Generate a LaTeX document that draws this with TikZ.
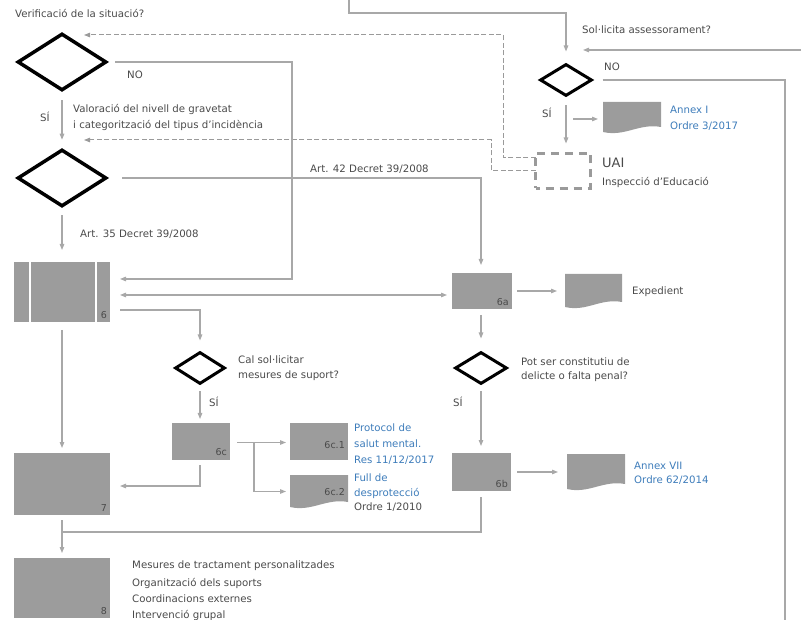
\documentclass[tikz,border=0pt]{standalone}
\usepackage{fontspec}
\setmainfont{DejaVu Sans}
\usetikzlibrary{shapes.geometric,arrows.meta,calc}
\definecolor{boxg}{HTML}{9C9C9C}
\definecolor{lineg}{HTML}{A8A8A8}
\definecolor{txtg}{HTML}{4A4A4A}
\definecolor{blu}{HTML}{3D7CBA}
\definecolor{dashg}{HTML}{9A9A9A}
\newcommand{\docshape}[1]{%
  \fill[boxg] (#1.north west) -- (#1.north east) -- ($(#1.south east)+(0,-6)$)
    .. controls ($(#1.south east)+(-22,-10)$) and ($(#1.south west)+(22,4)$) .. ($(#1.south west)+(0,-1)$) -- cycle;}
\begin{document}
\begin{tikzpicture}[x=1pt,y=-1pt,
  every node/.style={font=\fontsize{10.2}{12}\selectfont, text=txtg, inner sep=0pt},
  dia/.style={diamond, draw=black, line width=3.5pt, fill=white, inner sep=0pt, minimum width=89pt, minimum height=57pt},
  sdia/.style={diamond, draw=black, line width=3pt, fill=white, inner sep=0pt, minimum width=50pt, minimum height=32pt},
  box/.style={rectangle, fill=boxg, inner sep=0pt, outer sep=0pt, anchor=north west},
  docn/.style={rectangle, inner sep=0pt, outer sep=0pt, anchor=north west},
  ln/.style={draw=lineg, line width=1.2pt},
  arr/.style={ln, -{Triangle[length=6pt,width=4.5pt]}},
  arrboth/.style={ln, {Triangle[length=6pt,width=4.5pt]}-{Triangle[length=6pt,width=4.5pt]}},
  dsh/.style={draw=dashg, line width=1pt, dash pattern=on 5pt off 2.5pt, -{Triangle[length=6pt,width=4.5pt]}},
  lbl/.style={anchor=south east, font=\fontsize{9.5}{10}\selectfont},
  tx/.style={anchor=west},
  btx/.style={anchor=west, text=blu}
]
\useasboundingbox (0,0) rectangle (801,620);

% decisions
\node[dia] (d1) at (62,62) {};
\node[dia] (d2) at (62,178) {};
\node[sdia, minimum width=52pt] (sa) at (566,80) {};
\node[sdia] (d3) at (200,368) {};
\node[sdia, minimum width=52pt] (d4) at (481,368) {};

% boxes
\node[box, minimum width=96pt, minimum height=60pt] (b6) at (14,262) {};
\draw[white, line width=2pt] ($(b6.north west)+(16,0)$) -- ($(b6.south west)+(16,0)$);
\draw[white, line width=2pt] ($(b6.north west)+(82,0)$) -- ($(b6.south west)+(82,0)$);
\node[box, minimum width=60pt, minimum height=36pt] (b6a) at (452,273) {};
\node[box, minimum width=58pt, minimum height=37pt] (b6c) at (172,423) {};
\node[box, minimum width=58pt, minimum height=37pt] (b6c1) at (290,423) {};
\node[box, minimum width=96pt, minimum height=62pt] (b7) at (14,453) {};
\node[box, minimum width=59pt, minimum height=38pt] (b6b) at (452,453) {};
\node[box, minimum width=96pt, minimum height=60pt] (b8) at (14,558) {};

% documents
\node[docn, minimum width=58pt, minimum height=33pt] (b6c2) at (290,475) {};
\docshape{b6c2}
\node[docn, minimum width=57pt, minimum height=34pt] (exp) at (565,274) {};
\docshape{exp}
\node[docn, minimum width=58pt, minimum height=36pt] (a7) at (567,454) {};
\docshape{a7}
\node[docn, minimum width=58pt, minimum height=31pt] (a1) at (603,102) {};
\docshape{a1}

% UAI
\node[rectangle, draw=dashg, line width=3pt, dash pattern=on 8pt off 6pt, dash phase=4pt, minimum width=55pt, minimum height=35pt, outer sep=0pt] (uai) at (563,171) {};

% box labels
\node[lbl] (l6) at ($(b6.south east)+(-3,-3)$) {6};
\node[lbl] (l6a) at ($(b6a.south east)+(-3,-3)$) {6a};
\node[lbl] (l6b) at ($(b6b.south east)+(-3,-3)$) {6b};
\node[lbl] (l6c) at ($(b6c.south east)+(-3,-4)$) {6c};
\node[lbl] (l7) at ($(b7.south east)+(-3,-3)$) {7};
\node[lbl] (l8) at ($(b8.south east)+(-3,-3)$) {8};
\node[lbl] (l6c1) at ($(b6c1.east)+(-3,7)$) {6c.1};
\node[lbl] (l6c2) at ($(b6c2.east)+(-3,4)$) {6c.2};

% texts
\node[tx] (t1) at (15,13) {Verificació de la situació?};
\node[tx] (t2) at (127,75) {NO};
\node[tx] (t3) at (40,117) {SÍ};
\node[tx] (t4) at (73,109) {Valoració del nivell de gravetat};
\node[tx] (t5) at (73,125) {i categorització del tipus d'incidència};
\node[tx] (t6) at (310,169) {Art. 42 Decret 39/2008};
\node[tx] (t7) at (80,234) {Art. 35 Decret 39/2008};
\node[tx] (t8) at (582,30) {Sol·licita assessorament?};
\node[tx] (t9) at (604,67) {NO};
\node[tx] (t10) at (542,113) {SÍ};
\node[btx] (t11) at (670,110) {Annex I};
\node[btx] (t12) at (670,126) {Ordre 3/2017};
\node[tx, font=\fontsize{13}{15}\selectfont] (t13) at (602,163) {UAI};
\node[tx] (t14) at (602,182) {Inspecció d'Educació};
\node[tx] (t15) at (632,292) {Expedient};
\node[tx] (t16) at (238,360) {Cal sol·licitar};
\node[tx] (t17) at (238,376) {mesures de suport?};
\node[tx] (t18) at (521,362) {Pot ser constitutiu de};
\node[tx] (t19) at (521,377) {delicte o falta penal?};
\node[tx] (t20) at (209,402) {SÍ};
\node[tx] (t21) at (453,402) {SÍ};
\node[btx] (t22) at (354,428) {Protocol de};
\node[btx] (t23) at (354,444) {salut mental.};
\node[btx] (t24) at (354,460) {Res 11/12/2017};
\node[btx] (t25) at (354,478) {Full de};
\node[btx] (t26) at (354,493) {desprotecció};
\node[tx] (t27) at (354,507) {Ordre 1/2010};
\node[btx] (t28) at (634,466) {Annex VII};
\node[btx] (t29) at (634,480) {Ordre 62/2014};
\node[tx] (t30) at (132,566) {Mesures de tractament personalitzades};
\node[tx] (t31) at (132,583) {Organització dels suports};
\node[tx] (t32) at (132,599) {Coordinacions externes};
\node[tx] (t33) at (132,615) {Intervenció grupal};

% connector coordinates
\coordinate (topin) at (349,0);
\coordinate (topbend) at (349,13);
\coordinate (rin) at (801,50);
\coordinate (rtip) at (583,50);
\coordinate (noR) at (785,620);
\coordinate (a1s) at (573,119);
\coordinate (dtop1) at (503,35);
\coordinate (dtip1) at (84,35);
\coordinate (dtop2) at (491,140);
\coordinate (dtip2) at (84,140);
\coordinate (c1) at (292,279);
\coordinate (p295) at ($(b6.east)+(10,3)$);
\coordinate (p310) at ($(b6.east)+(10,18)$);
\coordinate (s6c) at ($(b6c.east)+(7,1)$);
\coordinate (br) at ($(s6c)+(17,0)$);
\coordinate (m) at ($(b7.south)+(0,17)$);

% connectors
\draw[arr] (topin) -- (topbend) -| ($(sa.north)+(0,-11)$);
\draw[arr] (rin) -- (rtip);
\draw[ln] ($(sa.east)+(9,0)$) -| (noR);
\draw[arr] ($(sa.south)+(0,8)$) -- ($(sa.south |- uai.north)+(0,-10)$);
\draw[arr] (a1s) -- ($(a1.west |- a1s)+(-5,0)$);
\draw[dsh] ($(uai.west)+(0,-13)$) -| (dtop1) -- (dtip1);
\draw[dsh] (uai.west) -| (dtop2) -- (dtip2);
\draw[arr] ($(d1.east)+(7,0)$) -| (c1) -- ($(b6.east |- c1)+(10,0)$);
\draw[arr] ($(d1.south)+(0,8)$) -- ($(d2.north)+(0,-8)$);
\draw[arr] ($(d2.east)+(14,0)$) -| ($(d4.north |- b6a.north)+(0,-8)$);
\draw[arr] ($(d2.south)+(0,7)$) -- ($(b6.north)+(0,-12)$);
\draw[arrboth] (p295) -- ($(p295 -| b6a.west)+(-5,0)$);
\draw[arr] (p310) -| ($(d3.north)+(0,-10)$);
\draw[arr] ($(b6a.east)+(5,0)$) -- ($(exp.west)+(-8,0)$);
\draw[arr] ($(d4.north |- b6a.south)+(0,6)$) -- ($(d4.north)+(0,-12)$);
\draw[arr] ($(d3.south)+(0,6)$) -- ($(d3.south |- b6c.north)+(0,-4)$);
\draw[arr] (s6c) -- ($(s6c -| b6c1.west)+(-4,0)$);
\draw[arr] (br) |- ($(b6c2.west)+(-4,0)$);
\draw[arr] ($(d3.south |- b6c.south)+(0,5)$) |- ($(b7.east)+(10,2)$);
\draw[arr] ($(b6.south)+(0,8)$) -- ($(b7.north)+(0,-5)$);
\draw[arr] ($(d4.south)+(0,6)$) -- ($(d4.south |- b6b.north)+(0,-7)$);
\draw[arr] ($(b6b.east)+(6,0)$) -- ($(a7.west)+(-9,0)$);
\draw[ln] ($(d4.south |- b6b.south)+(0,6)$) |- (m);
\draw[arr] ($(b7.south)+(0,5)$) -- ($(b8.north)+(0,-5)$);
\end{tikzpicture}
\end{document}
